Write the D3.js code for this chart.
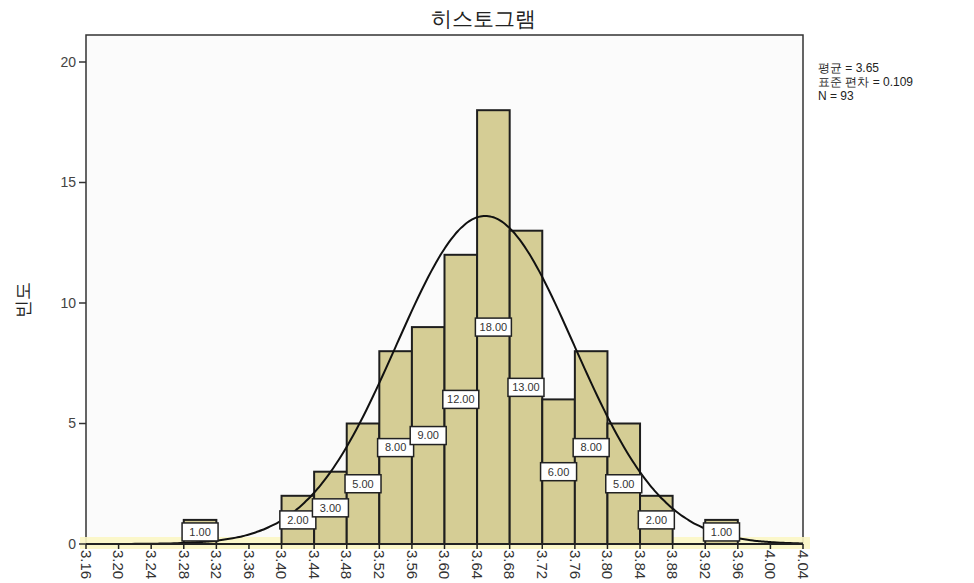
<!DOCTYPE html>
<html>
<head>
<meta charset="utf-8">
<script src="https://cdn.jsdelivr.net/npm/d3@7"></script>
<style>
  body { margin: 0; background: #fff; }
  text { font-family: "Liberation Sans", Arial, sans-serif; }
</style>
</head>
<body>
<div id="chart"></div>
<script>
// bin lower edges and counts
var binStart = [3.28, 3.40, 3.44, 3.48, 3.52, 3.56, 3.60, 3.64, 3.68, 3.72, 3.76, 3.80, 3.84, 3.92]
var counts = [1, 2, 3, 5, 8, 9, 12, 18, 13, 6, 8, 5, 2, 1]
var binWidth = 0.04
var xTicks = ["3.16","3.20","3.24","3.28","3.32","3.36","3.40","3.44","3.48","3.52","3.56","3.60",
  "3.64","3.68","3.72","3.76","3.80","3.84","3.88","3.92","3.96","4.00","4.04"]
var yTicks = [0, 5, 10, 15, 20]
var mean = 3.65, sd = 0.109, n = 93
var statLines = ["평균 = 3.65", "표준 편차 = 0.109", "N = 93"]

var width = 974, height = 583
var svg = d3.select("#chart").append("svg")
  .attr("width", width)
  .attr("height", height)

var x = d3.scaleLinear().domain([3.16, 4.04]).range([86, 803])
var y = d3.scaleLinear().domain([0, 20]).range([544, 62])

// plot frame
svg.append("rect")
  .attr("x", 86).attr("y", 35)
  .attr("width", 717).attr("height", 509)
  .style("fill", "#fbfbfb")
  .style("stroke", "#333")
  .style("stroke-width", 1.5)

// yellow band along the base
svg.append("rect")
  .attr("x", 80).attr("y", 537)
  .attr("width", 730).attr("height", 12)
  .style("fill", "#fbf6c4")
  .style("opacity", 0.9)

svg.append("text")
  .attr("x", 483).attr("y", 26)
  .attr("text-anchor", "middle")
  .style("font-size", "21px")
  .style("fill", "#222")
  .text("히스토그램")

var bars = svg.selectAll(".bar")
  .data(counts)
  .enter()
  .append("rect")
    .attr("class", "bar")
    .attr("x", (d, i) => x(binStart[i]))
    .attr("width", (d, i) => x(binStart[i] + binWidth) - x(binStart[i]))
    .attr("y", d => y(d))
    .attr("height", d => y(0) - y(d))
    .style("fill", "#d5cd95")
    .style("stroke", "#1e1e1e")
    .style("stroke-width", 2)

// normal curve
var curvePts = d3.range(3.16, 4.0401, 0.004).map(v => {
  var z = (v - mean) / sd
  return [v, n * binWidth * Math.exp(-0.5 * z * z) / (sd * Math.sqrt(2 * Math.PI))]
})
svg.append("path")
  .datum(curvePts)
  .attr("d", d3.line().x(d => x(d[0])).y(d => y(d[1])).curve(d3.curveBasis))
  .style("fill", "none")
  .style("stroke", "#111")
  .style("stroke-width", 2)

// value labels
var labels = svg.selectAll(".lab")
  .data(counts)
  .enter()
  .append("g")
    .attr("class", "lab")
    .attr("transform", (d, i) => "translate(" + x(binStart[i] + binWidth / 2) + "," + y(d / 2) + ")")
labels.append("rect")
  .attr("x", -18).attr("y", -9)
  .attr("width", 36).attr("height", 18)
  .style("fill", "#fff")
  .style("stroke", "#222")
  .style("stroke-width", 1.5)
labels.append("text")
  .attr("text-anchor", "middle")
  .attr("dy", "0.35em")
  .style("font-size", "11px")
  .style("fill", "#333")
  .text(d => d.toFixed(2))

// x axis
var xAxis = svg.append("g")
  .attr("transform", "translate(0,544)")
xAxis.append("line")
  .attr("x1", 86).attr("x2", 803)
  .style("stroke", "#222").style("stroke-width", 2)
xAxis.selectAll(".xt")
  .data(xTicks)
  .enter()
  .append("line")
    .attr("x1", d => x(+d)).attr("x2", d => x(+d))
    .attr("y1", 0).attr("y2", 5)
    .style("stroke", "#222").style("stroke-width", 1.5)
xAxis.selectAll(".xl")
  .data(xTicks)
  .enter()
  .append("text")
    .attr("transform", d => "translate(" + x(+d) + ",6) rotate(90)")
    .attr("dy", "0.35em")
    .style("font-size", "15px")
    .style("fill", "#333")
    .text(d => d)

// y axis
var yAxis = svg.append("g")
yAxis.selectAll(".yt")
  .data(yTicks)
  .enter()
  .append("line")
    .attr("x1", 79).attr("x2", 86)
    .attr("y1", d => y(d)).attr("y2", d => y(d))
    .style("stroke", "#333").style("stroke-width", 1.5)
yAxis.selectAll(".yl")
  .data(yTicks)
  .enter()
  .append("text")
    .attr("x", 76).attr("y", d => y(d))
    .attr("dy", "0.35em")
    .attr("text-anchor", "end")
    .style("font-size", "14px")
    .style("fill", "#444")
    .text(d => d)

svg.append("text")
  .attr("transform", "translate(29,300) rotate(-90)")
  .attr("text-anchor", "middle")
  .style("font-size", "18px")
  .style("fill", "#222")
  .text("빈도")

svg.selectAll(".stat")
  .data(statLines)
  .enter()
  .append("text")
    .attr("x", 818)
    .attr("y", (d, i) => 72 + i * 14)
    .style("font-size", "12px")
    .style("fill", "#222")
    .text(d => d)
</script>
</body>
</html>
